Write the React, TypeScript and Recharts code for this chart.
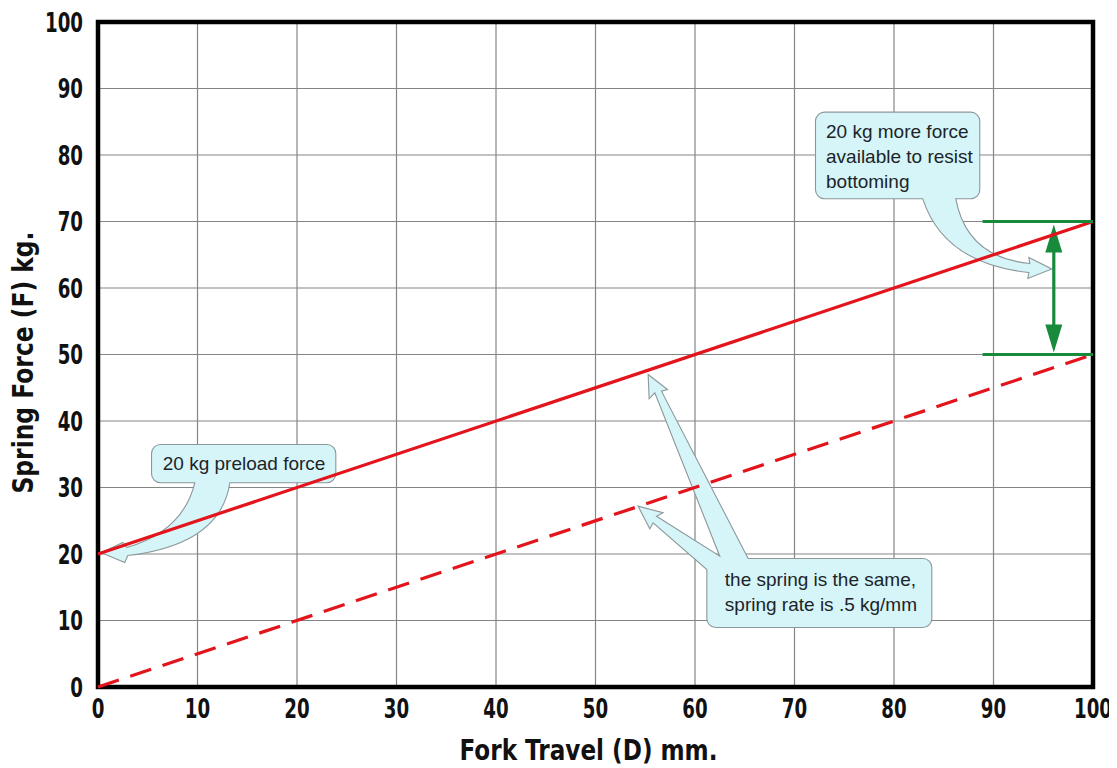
import React from 'react';
import {
  LineChart,
  Line,
  XAxis,
  YAxis,
  CartesianGrid,
  ReferenceArea,
  ReferenceLine,
} from 'recharts';

// ---------------- data ----------------
const travel = [0, 100];
const preloadedForce = [20, 70];
const unloadedForce = [0, 50];
const xTicks = [0, 10, 20, 30, 40, 50, 60, 70, 80, 90, 100];
const yTicks = [0, 10, 20, 30, 40, 50, 60, 70, 80, 90, 100];

const xTitle = 'Fork Travel (D) mm.';
const yTitle = 'Spring Force (F) kg.';
const preloadText = ['20 kg preload force'];
const bottomingText = ['20 kg more force', 'available to resist', 'bottoming'];
const rateText = ['the spring is the same,', 'spring rate is .5 kg/mm'];

// extra force band (kg) and where its markers sit (mm)
const bandTop = 70;
const bandBottom = 50;
const bandStart = 88.9;
const bandArrowX = 96.06;

// ---------------- annotation geometry (data units) ----------------
type Pt = [number, number];
type Seg = { q?: Pt; p: Pt };

const bottomingBox = { x1: 72.11, x2: 88.62, y1: 73.41, y2: 86.44 };
const bottomingTail: Seg[] = [
  { p: [86.21, 73.41] },
  { q: [87.32, 64.59], p: [93.65, 63.68] },
  { p: [93.55, 64.59] },
  { p: [95.86, 62.86] },
  { p: [93.45, 61.43] },
  { p: [93.55, 62.33] },
  { q: [85.01, 63.68], p: [82.89, 73.41] },
];
const bottomingTextPos = { x: 73.17, ys: [82.63, 78.87, 75.11] };

const preloadBox = { x1: 5.38, x2: 23.9, y1: 30.71, y2: 36.47 };
const preloadTail: Seg[] = [
  { p: [13.25, 30.71] },
  { q: [12.34, 21.43], p: [3.0, 19.77] },
  { p: [2.69, 18.72] },
  { p: [0.35, 20.18] },
  { p: [2.49, 21.73] },
  { p: [2.89, 20.98] },
  { q: [8.52, 23.38], p: [9.73, 30.71] },
];
const preloadTextPos = { x: 6.51, ys: [32.56] };

const rateBox = { x1: 61.19, x2: 83.8, y1: 8.95, y2: 19.32 };
const rateTail: Seg[] = [
  { p: [61.19, 17.67] },
  { p: [55.79, 24.69] },
  { p: [55.46, 23.79] },
  { p: [54.28, 27.19] },
  { p: [56.79, 26.2] },
  { p: [56.13, 25.68] },
  { p: [62.49, 19.67] },
  { p: [55.96, 44.24] },
  { p: [55.39, 43.34] },
  { p: [55.29, 46.99] },
  { p: [57.24, 44.74] },
  { p: [56.63, 44.48] },
  { p: [65.34, 19.32] },
];
const rateTextPos = { x: 63.0, ys: [15.16, 11.4] };

const chartData = travel.map((t, i) => ({
  travel: t,
  preloaded: preloadedForce[i],
  unloaded: unloadedForce[i],
}));

// ---------------- styles ----------------
const AXIS_FONT = "'DejaVu Sans', 'Liberation Sans', sans-serif";
const NOTE_FONT = "'Liberation Sans', Arial, sans-serif";
const RED = '#e3141c';
const GREEN = '#178a3c';
const NOTE_FILL = '#d6f5f9';
const NOTE_STROKE = '#8c9799';
const NOTE_TEXT = '#1c2428';
const TICK_SQUEEZE = 0.675;

type Rect = { x: number; y: number; width: number; height: number };

const makeScale = (r: Rect) => ({
  px: (d: number) => r.x + (d / 100) * r.width,
  py: (d: number) => r.y + r.height * (1 - d / 100),
});

const segPath = (segs: Seg[], s: ReturnType<typeof makeScale>) =>
  segs
    .map((sg) =>
      sg.q
        ? `Q ${s.px(sg.q[0])} ${s.py(sg.q[1])} ${s.px(sg.p[0])} ${s.py(sg.p[1])}`
        : `L ${s.px(sg.p[0])} ${s.py(sg.p[1])}`
    )
    .join(' ');

const bottomTailPath = (
  b: { x1: number; x2: number; y1: number; y2: number },
  tail: Seg[],
  s: ReturnType<typeof makeScale>,
  r = 9
) => {
  const L = s.px(b.x1), R = s.px(b.x2), T = s.py(b.y2), B = s.py(b.y1);
  return [
    `M ${L + r} ${T}`,
    `L ${R - r} ${T}`,
    `A ${r} ${r} 0 0 1 ${R} ${T + r}`,
    `L ${R} ${B - r}`,
    `A ${r} ${r} 0 0 1 ${R - r} ${B}`,
    segPath(tail, s),
    `L ${L + r} ${B}`,
    `A ${r} ${r} 0 0 1 ${L} ${B - r}`,
    `L ${L} ${T + r}`,
    `A ${r} ${r} 0 0 1 ${L + r} ${T}`,
    'Z',
  ].join(' ');
};

const cornerTailPath = (
  b: { x1: number; x2: number; y1: number; y2: number },
  tail: Seg[],
  s: ReturnType<typeof makeScale>,
  r = 9
) => {
  const L = s.px(b.x1), R = s.px(b.x2), T = s.py(b.y2), B = s.py(b.y1);
  const start = tail[tail.length - 1].p;
  return [
    `M ${s.px(start[0])} ${s.py(start[1])}`,
    `L ${R - r} ${T}`,
    `A ${r} ${r} 0 0 1 ${R} ${T + r}`,
    `L ${R} ${B - r}`,
    `A ${r} ${r} 0 0 1 ${R - r} ${B}`,
    `L ${L + r} ${B}`,
    `A ${r} ${r} 0 0 1 ${L} ${B - r}`,
    segPath(tail.slice(0, tail.length - 1), s),
    'Z',
  ].join(' ');
};

const NoteText = ({ lines, pos, s }: { lines: string[]; pos: { x: number; ys: number[] }; s: ReturnType<typeof makeScale> }) => (
  <g>
    {lines.map((t, i) => (
      <text
        key={i}
        x={s.px(pos.x)}
        y={s.py(pos.ys[i])}
        fontFamily={NOTE_FONT}
        fontSize={19}
        fill={NOTE_TEXT}
      >
        {t}
      </text>
    ))}
  </g>
);

const BottomingNote = (props: any) => {
  const s = makeScale(props);
  return (
    <g>
      <path d={bottomTailPath(bottomingBox, bottomingTail, s)} fill={NOTE_FILL} stroke={NOTE_STROKE} strokeWidth={1.1} />
      <NoteText lines={bottomingText} pos={bottomingTextPos} s={s} />
    </g>
  );
};

const PreloadNote = (props: any) => {
  const s = makeScale(props);
  return (
    <g>
      <path d={bottomTailPath(preloadBox, preloadTail, s)} fill={NOTE_FILL} stroke={NOTE_STROKE} strokeWidth={1.1} />
      <NoteText lines={preloadText} pos={preloadTextPos} s={s} />
    </g>
  );
};

const RateNote = (props: any) => {
  const s = makeScale(props);
  return (
    <g>
      <path d={cornerTailPath(rateBox, rateTail, s)} fill={NOTE_FILL} stroke={NOTE_STROKE} strokeWidth={1.1} />
      <NoteText lines={rateText} pos={rateTextPos} s={s} />
    </g>
  );
};

const BandArrow = (props: any) => {
  const s = makeScale(props);
  const x = s.px(bandArrowX);
  const yT = s.py(bandTop) + 3;
  const yB = s.py(bandBottom) - 2;
  const hl = 28;
  const hw = 8.5;
  return (
    <g>
      <line x1={x} y1={yT + hl - 2} x2={x} y2={yB - hl + 2} stroke={GREEN} strokeWidth={3.2} />
      <path d={`M ${x} ${yT} L ${x + hw} ${yT + hl} L ${x - hw} ${yT + hl} Z`} fill={GREEN} />
      <path d={`M ${x} ${yB} L ${x + hw} ${yB - hl} L ${x - hw} ${yB - hl} Z`} fill={GREEN} />
    </g>
  );
};

const Frame = (props: any) => (
  <rect x={props.x} y={props.y} width={props.width} height={props.height} fill="none" stroke="#000" strokeWidth={4.5} />
);

const XTitle = (props: any) => {
  const vb = props.viewBox;
  return (
    <text
      x={vb.x + vb.width / 2 - 7}
      y={vb.y + 73}
      textAnchor="middle"
      fontFamily={AXIS_FONT}
      fontWeight={700}
      fontSize={28}
      fill="#111"
      textLength={258}
      lengthAdjust="spacingAndGlyphs"
    >
      {xTitle}
    </text>
  );
};

const YTitle = (props: any) => {
  const vb = props.viewBox;
  const cx = vb.x + 25;
  const cy = vb.y + vb.height / 2 + 8;
  return (
    <text
      x={cx}
      y={cy}
      transform={`rotate(-90 ${cx} ${cy})`}
      textAnchor="middle"
      fontFamily={AXIS_FONT}
      fontWeight={700}
      fontSize={28}
      fill="#111"
      textLength={262}
      lengthAdjust="spacingAndGlyphs"
    >
      {yTitle}
    </text>
  );
};

const makeTick = (dy: string) => (props: any) => {
  const str = String(props.payload.value);
  return (
    <text
      transform={`translate(${props.x} ${props.y}) scale(${TICK_SQUEEZE} 1)`}
      x={0}
      y={0}
      dy={dy}
      textAnchor={props.textAnchor}
      fontFamily={AXIS_FONT}
      fontWeight={700}
      fontSize={27}
      fill="#111"
    >
      {str}
    </text>
  );
};

const XTick = makeTick('0.72em');
const YTick = makeTick('0.36em');

export default function App() {
  return (
    <div style={{ width: 1109, height: 760 }}>
      <style>{'html { overflow: hidden; }'}</style>
      <LineChart
        width={1109}
        height={760}
        data={chartData}
        margin={{ top: 14, right: 24, left: 0, bottom: 0 }}
      >
        <CartesianGrid stroke="#858585" strokeWidth={1.2} />
        <XAxis
          type="number"
          dataKey="travel"
          domain={[0, 100]}
          ticks={xTicks}
          interval={0}
          tickSize={0}
          tickMargin={12}
          axisLine={false}
          tickLine={false}
          tick={XTick}
          height={81}
          label={XTitle}
        />
        <YAxis
          type="number"
          domain={[0, 100]}
          ticks={yTicks}
          interval={0}
          tickSize={0}
          tickMargin={15}
          axisLine={false}
          tickLine={false}
          tick={YTick}
          width={90}
          label={YTitle}
        />
        <ReferenceArea x1={0} x2={100} y1={0} y2={100} shape={BottomingNote} ifOverflow="visible" />
        <ReferenceArea x1={0} x2={100} y1={0} y2={100} shape={RateNote} ifOverflow="visible" />
        <Line
          type="linear"
          dataKey="unloaded"
          stroke={RED}
          strokeWidth={3.2}
          strokeDasharray="22 12"
          dot={false}
          activeDot={false}
          isAnimationActive={false}
        />
        <Line
          type="linear"
          dataKey="preloaded"
          stroke={RED}
          strokeWidth={3.2}
          dot={false}
          activeDot={false}
          isAnimationActive={false}
        />
        <ReferenceLine
          segment={[{ x: bandStart, y: bandTop }, { x: 100, y: bandTop }]}
          stroke={GREEN}
          strokeWidth={3}
          ifOverflow="visible"
        />
        <ReferenceLine
          segment={[{ x: bandStart, y: bandBottom }, { x: 100, y: bandBottom }]}
          stroke={GREEN}
          strokeWidth={3}
          ifOverflow="visible"
        />
        <ReferenceArea x1={0} x2={100} y1={0} y2={100} shape={BandArrow} ifOverflow="visible" />
        <ReferenceArea x1={0} x2={100} y1={0} y2={100} shape={PreloadNote} ifOverflow="visible" />
        <ReferenceArea x1={0} x2={100} y1={0} y2={100} shape={Frame} ifOverflow="visible" />
      </LineChart>
    </div>
  );
}
